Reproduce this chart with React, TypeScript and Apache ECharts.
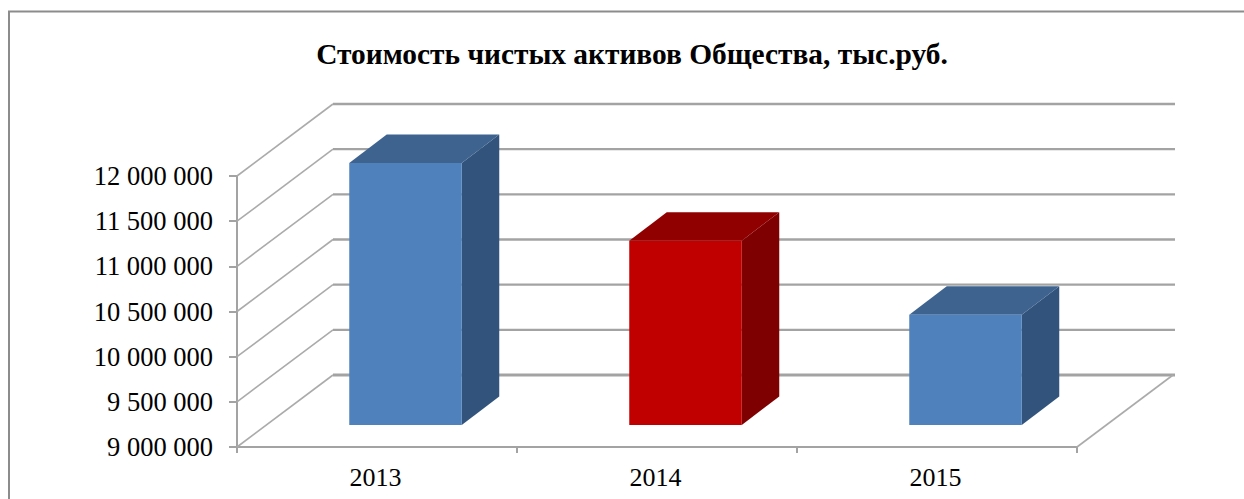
import React, { useEffect, useRef } from "react";
import * as echarts from "echarts";

const titleText = "Стоимость чистых активов Общества, тыс.руб.";
const categories = ["2013", "2014", "2015"];
const values = [11900000, 11040000, 10220000];
const frontColors = ["#4F81BD", "#C00000", "#4F81BD"];
const topColors = ["#3E638F", "#900000", "#3E638F"];
const sideColors = ["#32547C", "#7E0000", "#32547C"];
const yTicks = [9000000, 9500000, 10000000, 10500000, 11000000, 11500000, 12000000];

const AXIS_COLOR = "#A3A3A3";
const FONT = '"Liberation Serif", "Times New Roman", serif';
const DEPTH_X = 96;
const DEPTH_Y = 72;
const BAR_OFFSET_X = 28.5;
const BAR_OFFSET_Y = 22;
const BAR_DEPTH_X = 37.5;
const BAR_DEPTH_Y = 28.5;
const BAR_WIDTH = 112.5;

const formatValue = (v: number) => String(v).replace(/\B(?=(\d{3})+$)/g, " ");

export default function App() {
  const ref = useRef<HTMLDivElement>(null);
  useEffect(() => {
    const chart = echarts.init(ref.current!, undefined, { renderer: "svg" });
    chart.setOption({
      animation: false,
      backgroundColor: "#ffffff",
      title: {
        text: titleText,
        left: 627,
        top: 34,
        textAlign: "center",
        textStyle: { fontFamily: FONT, fontWeight: "bold", fontSize: 29.4, color: "#000000" },
      },
      graphic: [
        {
          type: "rect",
          silent: true,
          z: -1,
          shape: { x: 9, y: 11.5, width: 1400, height: 700 },
          style: { fill: "none", stroke: "#8C8C8C", lineWidth: 2 },
        },
      ],
      grid: { left: 237, top: 176, width: 840, height: 271 },
      xAxis: {
        type: "category",
        data: categories,
        boundaryGap: true,
        axisLine: { show: true, lineStyle: { color: AXIS_COLOR, width: 2 } },
        axisTick: { show: true, length: 6, alignWithLabel: false, lineStyle: { color: AXIS_COLOR, width: 2 } },
        axisLabel: { fontFamily: FONT, fontSize: 26, color: "#000000", margin: 17, padding: [0, 3, 0, 0] },
        splitLine: { show: false },
      },
      yAxis: {
        type: "value",
        min: 9000000,
        max: 12000000,
        interval: 500000,
        axisLine: { show: true, lineStyle: { color: AXIS_COLOR, width: 2 } },
        axisTick: { show: true, length: 8, lineStyle: { color: AXIS_COLOR, width: 2 } },
        axisLabel: { fontFamily: FONT, fontSize: 26.5, color: "#000000", margin: 24, formatter: formatValue },
        splitLine: { show: false },
      },
      series: [
        {
          type: "custom",
          z: 1,
          silent: true,
          data: yTicks.map((t) => [0, t]),
          encode: { x: 0, y: 1 },
          renderItem: (params: any, api: any) => {
            const cs = params.coordSys;
            const y = api.coord([0, api.value(1)])[1];
            const isFloor = api.value(1) === yTicks[0];
            const children: any[] = [
              {
                type: "line",
                shape: { x1: cs.x, y1: y, x2: cs.x + DEPTH_X, y2: y - DEPTH_Y },
                style: { stroke: "#ABABAB", lineWidth: 1.6 },
              },
              {
                type: "line",
                shape: {
                  x1: cs.x + DEPTH_X,
                  y1: y - DEPTH_Y,
                  x2: cs.x + cs.width + DEPTH_X + 2,
                  y2: y - DEPTH_Y,
                },
                style: { stroke: AXIS_COLOR, lineWidth: isFloor ? 3 : 2.4 },
              },
            ];
            if (isFloor) {
              children.push({
                type: "line",
                shape: {
                  x1: cs.x + cs.width,
                  y1: y,
                  x2: cs.x + cs.width + DEPTH_X,
                  y2: y - DEPTH_Y,
                },
                style: { stroke: "#ABABAB", lineWidth: 1.6 },
              });
            }
            return { type: "group", children };
          },
        },
        {
          type: "custom",
          z: 3,
          silent: true,
          data: values.map((v, i) => [i, v]),
          encode: { x: 0, y: 1 },
          renderItem: (params: any, api: any) => {
            const i = params.dataIndex;
            const top = api.coord([api.value(0), api.value(1)]);
            const base = api.coord([api.value(0), yTicks[0]]);
            const x0 = top[0] - BAR_WIDTH / 2 + BAR_OFFSET_X;
            const x1 = x0 + BAR_WIDTH;
            const yt = top[1] - BAR_OFFSET_Y;
            const yb = base[1] - BAR_OFFSET_Y;
            const poly = (points: number[][], fill: string) => ({
              type: "polygon",
              shape: { points },
              style: { fill, stroke: "none" },
            });
            return {
              type: "group",
              children: [
                poly(
                  [
                    [x1, yt],
                    [x1 + BAR_DEPTH_X, yt - BAR_DEPTH_Y],
                    [x1 + BAR_DEPTH_X, yb - BAR_DEPTH_Y],
                    [x1, yb],
                  ],
                  sideColors[i]
                ),
                poly(
                  [
                    [x0, yt],
                    [x0 + BAR_DEPTH_X, yt - BAR_DEPTH_Y],
                    [x1 + BAR_DEPTH_X, yt - BAR_DEPTH_Y],
                    [x1, yt],
                  ],
                  topColors[i]
                ),
                poly(
                  [
                    [x0, yt],
                    [x1, yt],
                    [x1, yb],
                    [x0, yb],
                  ],
                  frontColors[i]
                ),
              ],
            };
          },
        },
      ],
    });
    return () => chart.dispose();
  }, []);
  return (
    <div
      ref={ref}
      style={{ position: "absolute", left: 0, top: 0, width: 1244, height: 499 }}
    />
  );
}
